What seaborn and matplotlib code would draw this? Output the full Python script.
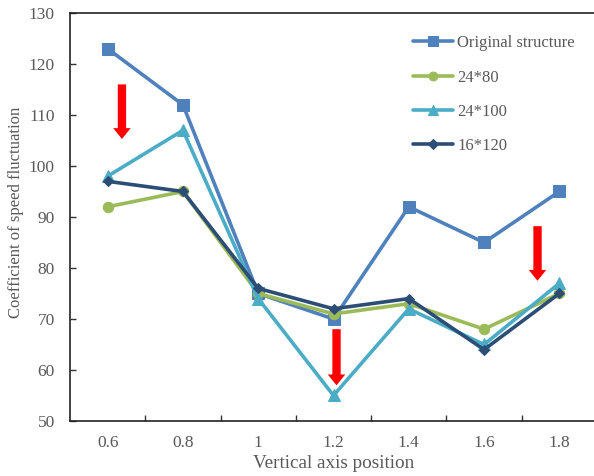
import numpy as np
import pandas as pd
import matplotlib
matplotlib.use("Agg")
import matplotlib.pyplot as plt
import seaborn as sns

# Data
positions = ["0.6", "0.8", "1", "1.2", "1.4", "1.6", "1.8"]
original = [123, 112, 75, 70, 92, 85, 95]
s24x80 = [92, 95, 75, 71, 73, 68, 75]
s24x100 = [98, 107, 74, 55, 72, 65, 77]
s16x120 = [97, 95, 76, 72, 74, 64, 75]

series_names = ["Original structure", "24*80", "24*100", "16*120"]
series_values = [original, s24x80, s24x100, s16x120]
colors = ["#4F81BD", "#9BBB59", "#4BACC6", "#2C4D75"]
markers = ["s", "o", "^", "D"]
marker_sizes = [8, 7.5, 8, 5.5]

# Red arrows marking the drop: (x index, y start, y end)
arrow_x = [0.19, 3.04, 5.71]
arrow_y0 = [116, 68, 88.2]
arrow_y1 = [105.3, 57, 77.5]

sns.set_theme(style="white")
plt.rcParams["font.family"] = ["Liberation Serif", "DejaVu Serif"]
text_color = "#595959"

fig = plt.figure(figsize=(5.94, 4.76), dpi=100)
ax = fig.add_axes([70 / 594, 1 - 421 / 476, 527 / 594, (421 - 13) / 476])

idx = np.arange(len(positions))
for name, vals, c, m, ms in zip(series_names, series_values, colors, markers, marker_sizes):
    df = pd.DataFrame({"pos": idx, "val": vals})
    sns.lineplot(data=df, x="pos", y="val", ax=ax, color=c, marker=m,
                 markersize=ms, markeredgecolor=c, linewidth=2.6, label=name)

for x, y0, y1 in zip(arrow_x, arrow_y0, arrow_y1):
    ax.annotate("", xy=(x, y1), xytext=(x, y0),
                arrowprops=dict(arrowstyle="simple,head_width=1.05,head_length=0.65,tail_width=0.5",
                                color="#FF0000", lw=0, shrinkA=0, shrinkB=0))

ax.set_xlim(-0.5, 6.5)
ax.set_ylim(50, 130)
ax.set_yticks(np.arange(50, 131, 10))
ax.set_xticks(idx)
ax.set_xticklabels(positions)
ax.set_xticks(idx[:-1] + 0.5, minor=True)

ax.tick_params(axis="x", which="major", length=0, pad=10, labelsize=12.5, labelcolor=text_color)
ax.tick_params(axis="x", which="minor", direction="in", length=4, width=1, color="#333333", bottom=True)
ax.tick_params(axis="y", which="major", direction="in", length=4, width=1, color="#333333",
               left=True, pad=11, labelsize=12.5, labelcolor=text_color)

for side in ["left", "bottom", "top", "right"]:
    ax.spines[side].set_visible(True)
    ax.spines[side].set_color("#222222")
    ax.spines[side].set_linewidth(1.2)

ax.set_xlabel("Vertical axis position", fontsize=13.8, color=text_color, labelpad=3)
ax.set_ylabel("Coefficient of speed fluctuation", fontsize=12, color=text_color)
ax.yaxis.set_label_coords(-0.087, 0.512)

leg = ax.legend(loc="upper left", bbox_to_anchor=(0.638, 0.962), frameon=False, fontsize=12,
                labelspacing=1.1, handlelength=2.4, handletextpad=0.25, borderaxespad=0,
                markerscale=0.85)
for t in leg.get_texts():
    t.set_color(text_color)

fig.savefig("out.png", dpi=100)
